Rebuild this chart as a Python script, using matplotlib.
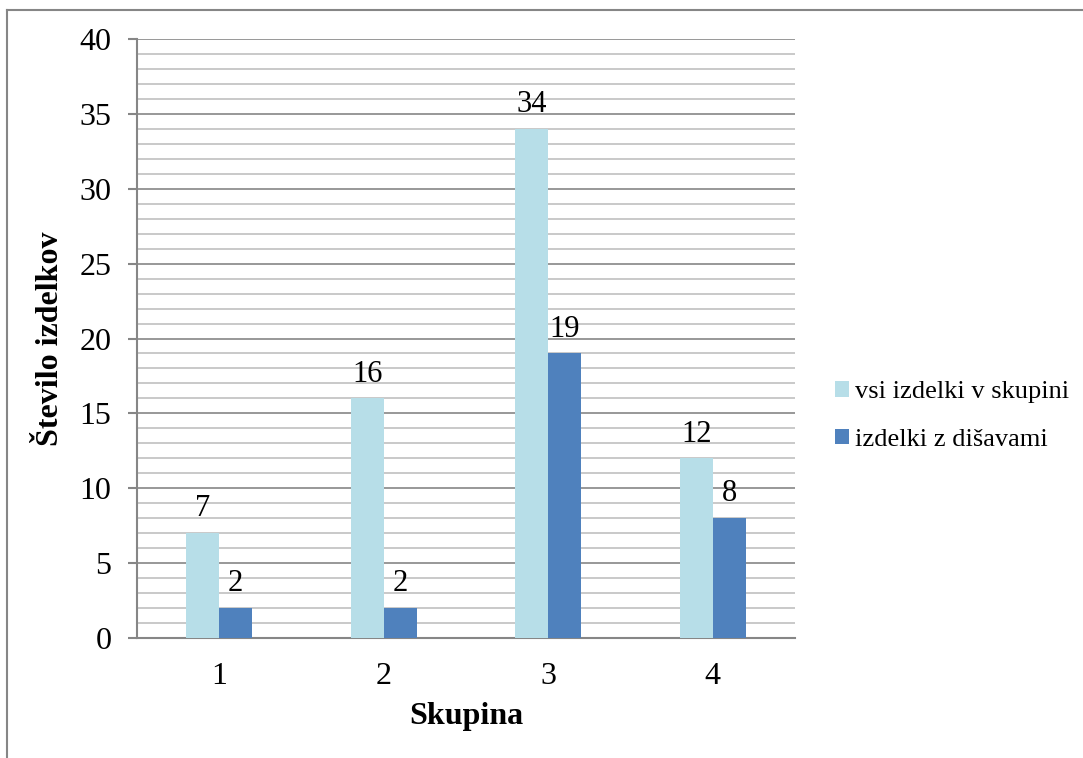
import numpy as np
import matplotlib.pyplot as plt
from matplotlib.lines import Line2D
from matplotlib.ticker import MultipleLocator

groups = ['1', '2', '3', '4']
all_items = [7, 16, 34, 12]
scented_items = [2, 2, 19, 8]
series_names = ['vsi izdelki v skupini', 'izdelki z dišavami']

plt.rcParams['font.family'] = ['Liberation Serif', 'DejaVu Serif']
FS = 23

fig = plt.figure(figsize=(10.83, 7.58), dpi=100)
ax = fig.add_axes([137 / 1083, 1 - 638 / 758, 658 / 1083, 599 / 758])

x = np.arange(len(groups))
w = 0.2
b1 = ax.bar(x - w / 2, all_items, w, color='#B7DEE8', label=series_names[0], zorder=3)
b2 = ax.bar(x + w / 2, scented_items, w, color='#4F81BD', label=series_names[1], zorder=3)

for bars, vals in ((b1, all_items), (b2, scented_items)):
    for rect, v in zip(bars, vals):
        ax.annotate(str(v), (rect.get_x() + rect.get_width() / 2, v),
                    xytext=(0, 7), textcoords='offset points',
                    ha='center', va='bottom', fontsize=FS - 1, zorder=4)

ax.set_xlim(-0.5, len(groups) - 0.5)
ax.set_ylim(0, 40)
ax.yaxis.set_major_locator(MultipleLocator(5))
ax.yaxis.set_minor_locator(MultipleLocator(1))
ax.set_xticks(x)
ax.set_xticklabels(groups)

ax.grid(axis='y', which='major', color='#868686', linewidth=1.2, zorder=0)
ax.grid(axis='y', which='minor', color='#c0c0c0', linewidth=1.2, zorder=0)
ax.set_axisbelow(True)

for side in ('top', 'right'):
    ax.spines[side].set_visible(False)
for side in ('left', 'bottom'):
    ax.spines[side].set_color('#868686')
    ax.spines[side].set_linewidth(1.5)

ax.tick_params(axis='y', which='major', length=6.5, width=1.5, color='#868686',
               labelsize=FS, pad=12)
ax.tick_params(axis='y', which='minor', length=0)
ax.tick_params(axis='x', length=0, labelsize=FS, pad=17)

ax.set_ylabel('Število izdelkov', fontsize=FS, fontweight='bold', labelpad=10)
ax.set_xlabel('Skupina', fontsize=FS, fontweight='bold', labelpad=8)

leg = fig.legend(handles=[b1, b2], loc='center left',
                 bbox_to_anchor=(811 / 1083, 1 - 416 / 758), frameon=False,
                 fontsize=19, handlelength=0.53, handleheight=0.53,
                 handletextpad=0.23, labelspacing=0.95)

# outer chart frame (top and left edges)
fig.add_artist(Line2D([7 / 1083, 1], [1 - 10 / 758, 1 - 10 / 758],
                      transform=fig.transFigure, color='#868686', linewidth=1.5))
fig.add_artist(Line2D([7 / 1083, 7 / 1083], [1 - 10 / 758, 0],
                      transform=fig.transFigure, color='#868686', linewidth=1.5))

fig.savefig('out.png', dpi=100, facecolor='white')
